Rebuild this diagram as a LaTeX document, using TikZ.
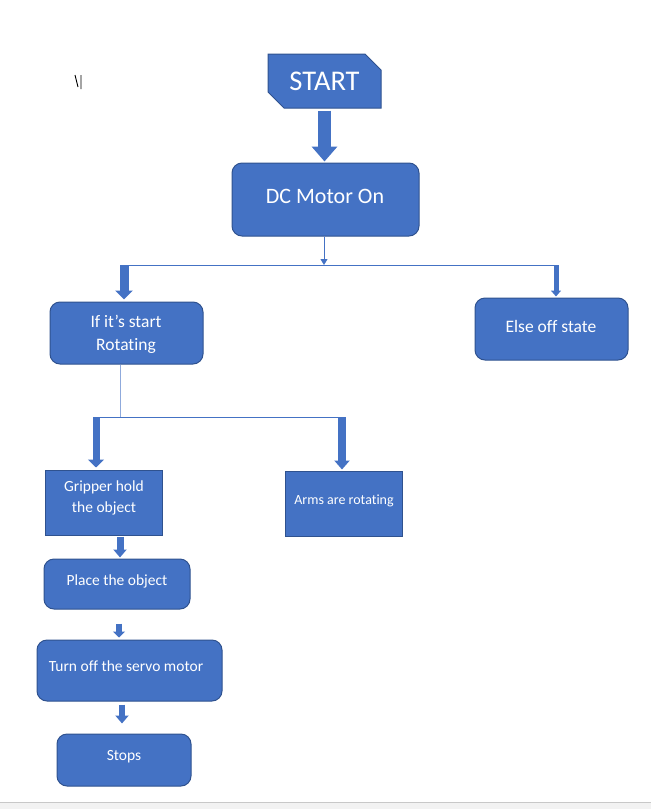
\documentclass[tikz,border=0pt]{standalone}
\usepackage{fontspec}
\setmainfont{Carlito}[Ligatures=NoCommon]
\usetikzlibrary{arrows.meta,shapes.misc}
\definecolor{boxblue}{HTML}{4472C4}
\definecolor{edgeblue}{HTML}{2F528F}
\definecolor{faintblue}{HTML}{8FAADC}
\definecolor{pagegray}{HTML}{F2F2F2}
\definecolor{pageedge}{HTML}{C8C8C8}
\tikzset{
  stepbox/.style={draw=edgeblue, fill=boxblue, line width=1pt, rounded corners=10pt, inner sep=0pt},
  plainbox/.style={draw=edgeblue, fill=boxblue, line width=1pt, inner sep=0pt},
  boxtext/.style={text=white, align=center, inner sep=0pt, font=\fontsize{15.5}{21}\selectfont},
  bigtext/.style={boxtext, font=\fontsize{17.5}{23}\selectfont},
  blockarrow/.style n args={3}{draw=boxblue, line width=#1, -{Triangle[length=#3, width=#2]}},
  thinline/.style={draw=boxblue, line width=1pt},
}
\begin{document}
\begin{tikzpicture}[x=1pt,y=-1pt]
    \useasboundingbox (0,0) rectangle (651,809);
    % page edge at the bottom
    \fill[pagegray] (0,802) rectangle (651,809);
    \draw[pageedge] (0,802) -- (651,802);
    % stray mark
    \draw[line width=0.9pt] (75,75) -- (78,87) (81,75) -- (81,89);

    % boxes
    \node[chamfered rectangle, chamfered rectangle corners={north east,south west},
          chamfered rectangle xsep=8pt, chamfered rectangle ysep=8pt,
          draw=edgeblue, fill=boxblue, line width=1pt, inner sep=0pt,
          minimum width=113pt, minimum height=54pt, text=white,
          font=\fontsize{28.5}{34}\selectfont] (start) at (324.5,81) {START};
    \node[stepbox, minimum width=187pt, minimum height=73pt] (dc) at (325.5,199.5) {};
    \node[boxtext, font=\fontsize{22}{26}\selectfont] (dc-text) at (325,196) {DC Motor On};
    \node[stepbox, minimum width=153pt, minimum height=62pt] (rotate) at (126.5,333) {};
    \node[bigtext] (rotate-text) at (126,334) {If it’s start\\Rotating};
    \node[stepbox, minimum width=153pt, minimum height=62pt] (off) at (551.5,329) {};
    \node[bigtext] (off-text) at (551,326) {Else off state};
    \node[plainbox, minimum width=117pt, minimum height=65pt] (grip) at (103.5,502.5) {};
    \node[boxtext] (grip-text) at (104,498) {Gripper hold\\the object};
    \node[plainbox, minimum width=117pt, minimum height=65pt] (arms) at (343.5,503.5) {};
    \node[boxtext, font=\fontsize{14}{17}\selectfont] (arms-text) at (344,500.5) {Arms are rotating};
    \node[stepbox, minimum width=146pt, minimum height=50pt] (place) at (117,584) {};
    \node[boxtext] (place-text) at (117,581) {Place the object};
    \node[stepbox, minimum width=185pt, minimum height=61pt] (servo) at (129.5,670.5) {};
    \node[boxtext] (servo-text) at (126,666.5) {Turn off the servo motor};
    \node[stepbox, minimum width=134pt, minimum height=52pt] (stops) at (124,760) {};
    \node[boxtext] (stops-text) at (124,757) {Stops};

    % split points
    \coordinate (split1) at (324,265);
    \coordinate (left1) at (124,265);
    \coordinate (right1) at (556,265);
    \coordinate (split2) at (120,417);
    \coordinate (left2) at (96,417);
    \coordinate (right2) at (342,417);

    % connectors
    \draw[blockarrow={13pt}{25pt}{15pt}, shorten <=2pt, shorten >=1pt] (start.south) -- (dc.north -| start.south);
    \draw[thinline, -{Triangle[length=6pt, width=7pt]}] (dc.south -| split1) -- (split1);
    \draw[thinline] ([xshift=-4pt]left1) -- ([xshift=2pt]right1);
    \draw[blockarrow={9pt}{17pt}{9pt}, shorten >=2pt] (left1) -- (rotate.north -| left1);
    \draw[blockarrow={5pt}{10pt}{6pt}, shorten >=1pt] (right1) -- (off.north -| right1);
    \draw[faintblue, line width=1pt] (rotate.south -| split2) -- (split2);
    \draw[thinline] ([xshift=-3pt]left2) -- ([xshift=4pt]right2);
    \draw[blockarrow={7pt}{16pt}{8pt}, shorten >=2pt] (left2) -- (grip.north -| left2);
    \draw[blockarrow={8pt}{15pt}{9pt}, shorten >=1pt] (right2) -- (arms.north -| right2);
    \draw[blockarrow={7pt}{13pt}{8pt}, shorten <=1pt, shorten >=1pt] ([xshift=3pt]place.north |- grip.south) -- ([xshift=3pt]place.north);
    \draw[blockarrow={6pt}{12pt}{6pt}, shorten <=14pt, shorten >=2pt] ([xshift=2pt]place.south) -- ([xshift=2pt]place.south |- servo.north);
    \draw[blockarrow={6pt}{13pt}{8pt}, shorten <=3pt, shorten >=10pt] ([xshift=-2pt]stops.north |- servo.south) -- ([xshift=-2pt]stops.north);
\end{tikzpicture}
\end{document}
